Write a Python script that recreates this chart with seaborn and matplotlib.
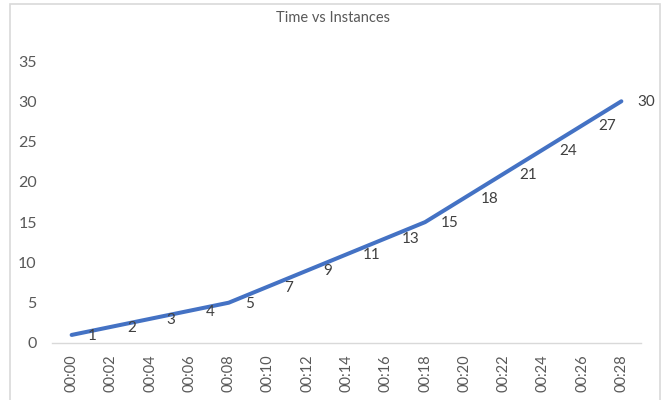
import matplotlib
matplotlib.use("Agg")
import matplotlib.pyplot as plt
import seaborn as sns
import pandas as pd
from matplotlib.patches import Rectangle

times = ["00:00", "00:02", "00:04", "00:06", "00:08", "00:10", "00:12", "00:14",
         "00:16", "00:18", "00:20", "00:22", "00:24", "00:26", "00:28"]
instances = [1, 2, 3, 4, 5, 7, 9, 11, 13, 15, 18, 21, 24, 27, 30]
y_ticks = [0, 5, 10, 15, 20, 25, 30, 35]

sns.set_theme(style="white")
plt.rcParams["font.family"] = ["Lato", "DejaVu Sans"]

df = pd.DataFrame({"Time": times, "Instances": instances})

fig = plt.figure(figsize=(6.66, 4.0), dpi=100)
# chart frame
fig.patches.append(Rectangle((10 / 666, -0.02), 650 / 666, 1 - 4 / 400 + 0.02,
                             transform=fig.transFigure, fill=False,
                             edgecolor="#d9d9d9", linewidth=1.2))

ax = fig.add_axes([52 / 666, 1 - 343 / 400, (641 - 52) / 666, (343 - 61) / 400])
sns.lineplot(data=df, x="Time", y="Instances", sort=False, ax=ax,
             color="#4472C4", linewidth=2.9, solid_capstyle="round")

ax.set_xlim(-0.5, len(times) - 0.5)
ax.set_ylim(0, 35)
ax.set_yticks(y_ticks)
ax.set_xlabel("")
ax.set_ylabel("")

for s in ["top", "right", "left"]:
    ax.spines[s].set_visible(False)
ax.spines["bottom"].set_color("#d9d9d9")
ax.spines["bottom"].set_linewidth(1.0)

ax.tick_params(axis="y", length=0, colors="#595959", labelsize=11.5, pad=11)
ax.tick_params(axis="x", length=0, colors="#595959", labelsize=10.5, pad=8)
plt.setp(ax.get_xticklabels(), rotation=90)

for i, v in enumerate(instances):
    ax.annotate(str(v), (i, v), xytext=(16, -1), textcoords="offset pixels",
                ha="left", va="center", fontsize=11, color="#404040")

fig.text(333 / 666, 1 - 18 / 400, "Time vs Instances", ha="center", va="center",
         fontsize=10.5, color="#595959")

fig.savefig("out.png", dpi=100)
